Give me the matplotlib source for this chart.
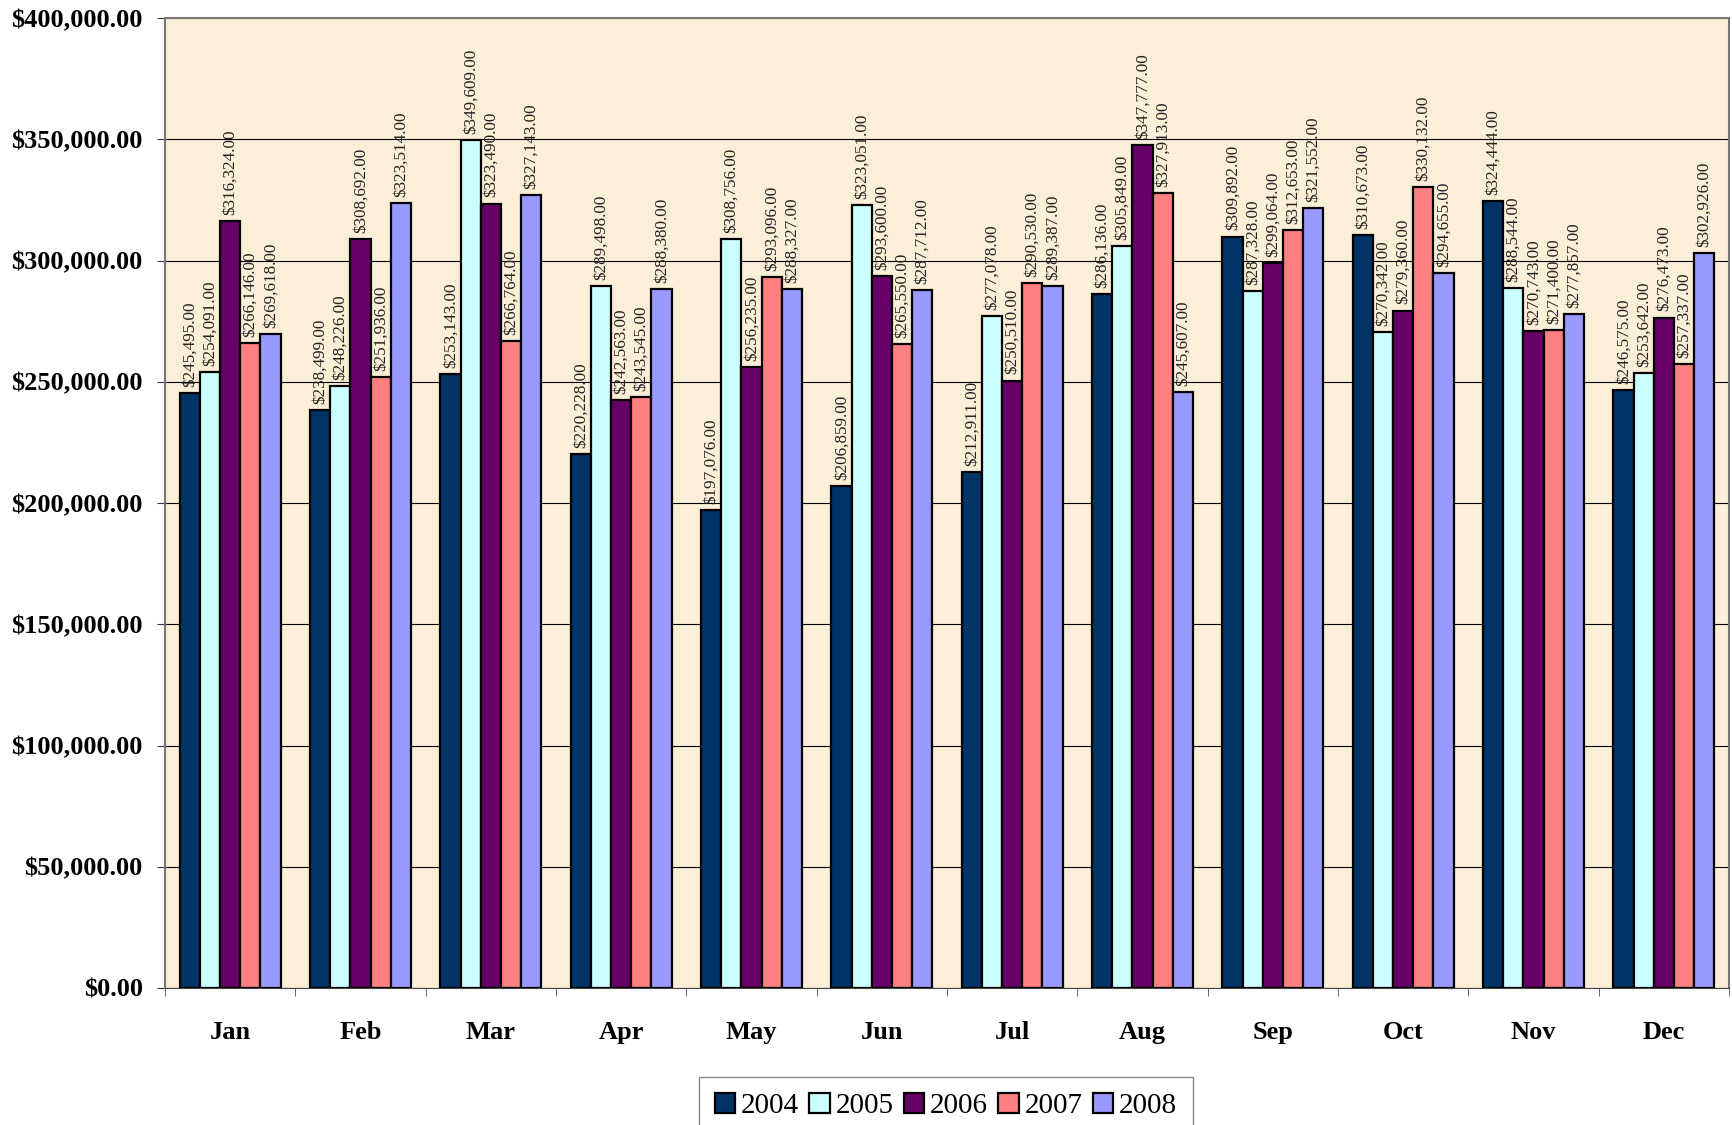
import matplotlib
matplotlib.use("Agg")
import matplotlib.pyplot as plt
import numpy as np
from matplotlib.ticker import FuncFormatter, MultipleLocator

months = ["Jan", "Feb", "Mar", "Apr", "May", "Jun", "Jul", "Aug", "Sep", "Oct", "Nov", "Dec"]
years = ["2004", "2005", "2006", "2007", "2008"]
v2004 = [245495, 238499, 253143, 220228, 197076, 206859, 212911, 286136, 309892, 310673, 324444, 246575]
v2005 = [254091, 248226, 349609, 289498, 308756, 323051, 277078, 305849, 287328, 270342, 288544, 253642]
v2006 = [316324, 308692, 323490, 242563, 256235, 293600, 250510, 347777, 299064, 279360, 270743, 276473]
v2007 = [266146, 251936, 266764, 243545, 293096, 265550, 290530, 327913, 312653, 330132, 271400, 257337]
v2008 = [269618, 323514, 327143, 288380, 288327, 287712, 289387, 245607, 321552, 294655, 277857, 302926]
series = [v2004, v2005, v2006, v2007, v2008]
colors = ["#003366", "#CCFFFF", "#660066", "#FF8080", "#9999FF"]

fig = plt.figure(figsize=(17.33, 11.25), dpi=100)
ax = fig.add_axes([165/1733, 1 - 988/1125, (1729-165)/1733, (988-18)/1125])
ax.set_facecolor("#FCEFD7")

x = np.arange(len(months))
w = 0.155
for i, (vals, c, yr) in enumerate(zip(series, colors, years)):
    pos = x + (i - 2) * w
    ax.bar(pos, vals, width=w, color=c, edgecolor="black", linewidth=1.6, label=yr, zorder=3)
    for p, v in zip(pos, vals):
        ax.text(p, v + 2500, f"${v:,.2f}", rotation=90, ha="center", va="bottom",
                fontsize=12.3, family="Liberation Serif", color="#222222", zorder=4)

ax.set_xlim(-0.5, 11.5)
ax.set_ylim(0, 400000)
ax.yaxis.set_major_locator(MultipleLocator(50000))
ax.yaxis.set_major_formatter(FuncFormatter(lambda v, p: f"${v:,.2f}"))
ax.grid(axis="y", color="black", linewidth=0.8, zorder=1)
ax.set_axisbelow(True)

ax.set_xticks(x)
ax.set_xticklabels(months)
ax.tick_params(axis="x", length=0, pad=24)
ax.set_xticks(np.arange(-0.5, 12.0, 1.0), minor=True)
ax.tick_params(axis="x", which="minor", length=6, color="#555555")
ax.tick_params(axis="y", length=6, color="#333333", pad=10)
for lbl in ax.get_xticklabels():
    lbl.set_fontsize(19); lbl.set_fontweight("bold"); lbl.set_family("Liberation Serif")
for lbl in ax.get_yticklabels():
    lbl.set_fontsize(19); lbl.set_fontweight("bold"); lbl.set_family("Liberation Serif")

for s in ["left", "top", "right"]:
    ax.spines[s].set_color("#777777")
    ax.spines[s].set_linewidth(1.5)
ax.spines["bottom"].set_color("#444444")

leg = fig.legend(loc="upper center", bbox_to_anchor=(946/1733, 1 - 1077/1125), ncol=5,
                 prop={"family": "Liberation Serif", "size": 21}, frameon=True, fancybox=False,
                 handlelength=0.7, handleheight=0.7, handletextpad=0.2, columnspacing=0.35,
                 borderpad=0.55, borderaxespad=0, edgecolor="#666666")
leg.get_frame().set_linewidth(1.0)

fig.savefig("out.png", dpi=100, facecolor="white")
